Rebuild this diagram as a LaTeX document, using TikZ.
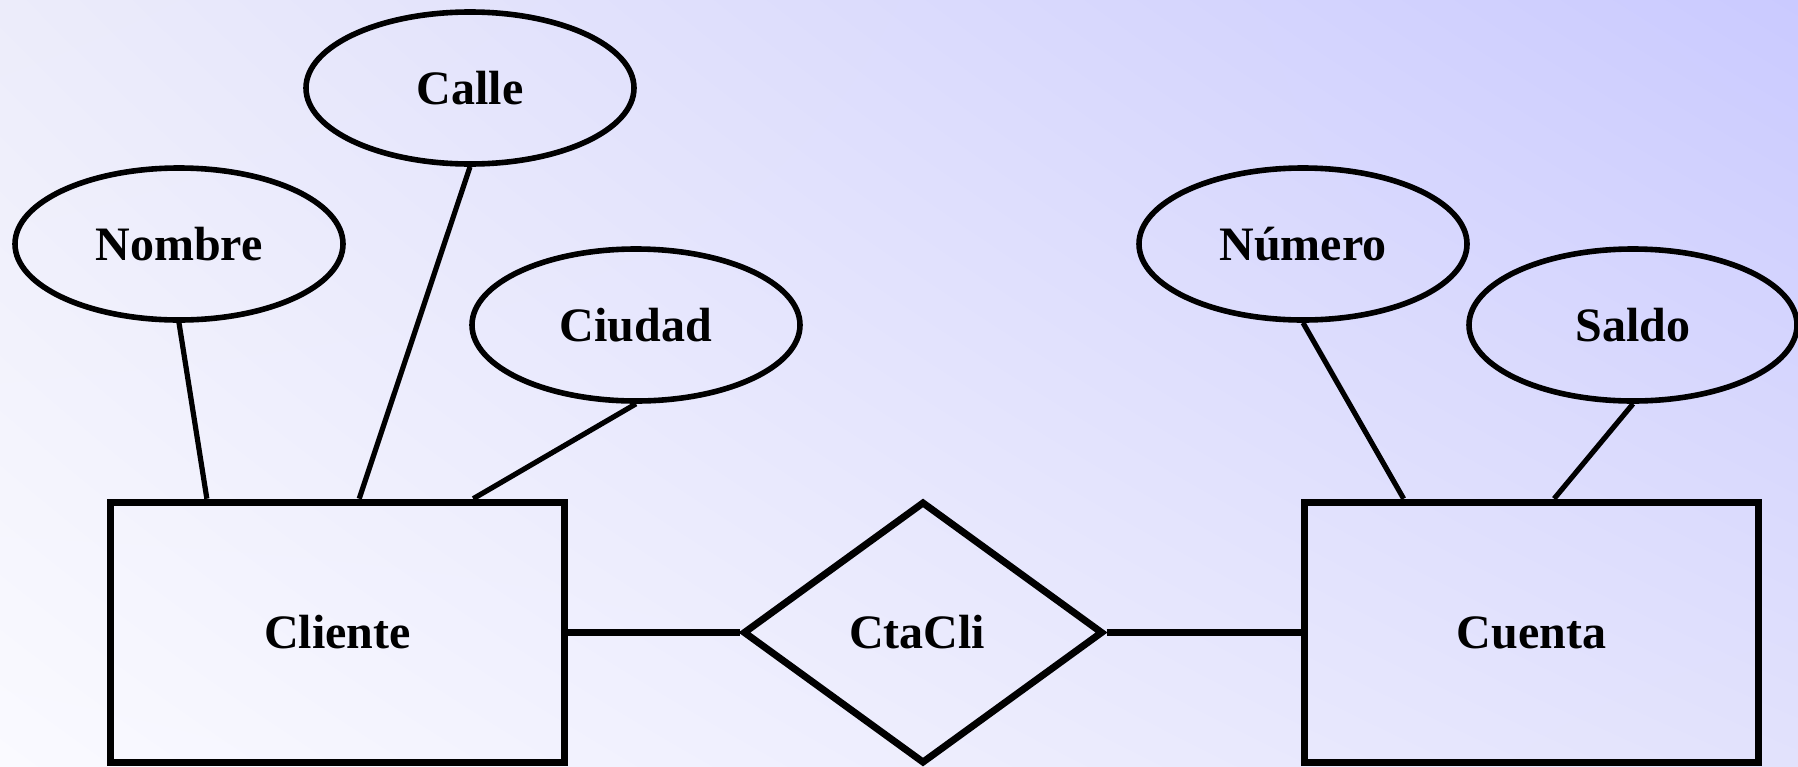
\documentclass[tikz,border=0pt]{standalone}
\usepackage{fontspec}
\newfontfamily\erfont{Liberation Serif}
\usetikzlibrary{shapes.geometric,calc,shadings}
\definecolor{bgTL}{RGB}{236,236,250}
\definecolor{bgTR}{RGB}{202,202,255}
\definecolor{bgBL}{RGB}{250,250,255}
\definecolor{bgBR}{RGB}{226,226,252}
\tikzset{
  lbl/.style={font=\erfont\bfseries\fontsize{24}{28}\selectfont, text=black, inner sep=0pt},
  attr/.style={lbl, ellipse, draw=black, line width=2.8pt, minimum width=164pt, minimum height=76pt},
  ent/.style={lbl, rectangle, draw=black, line width=3.8pt, minimum width=227pt, minimum height=130pt},
  rel/.style={lbl, diamond, draw=black, line width=3.5pt, minimum width=180pt, minimum height=131pt},
  attrlink/.style={draw=black, line width=2.6pt},
  rellink/.style={draw=black, line width=3.4pt}
}
\begin{document}
\begin{tikzpicture}[x=0.5pt,y=-0.5pt]
\shade[upper left=bgTL, upper right=bgTR, lower left=bgBL, lower right=bgBR] (0,0) rectangle (1798,766);
\useasboundingbox (0,0) rectangle (1798,766);

\node[attr] (nombre) at (179,244) {Nombre};
\node[attr] (calle) at (470,88) {Calle};
\node[attr] (ciudad) at (636,325) {Ciudad};
\node[attr] (numero) at (1303,244) {Número};
\node[attr] (saldo) at (1633,325) {Saldo};

\node[ent] (cliente) at (337.5,632.5) {Cliente};
\node[ent] (cuenta) at (1531.5,632.5) {Cuenta};
\node[rel] (ctacli) at (923,632.5) {\hspace*{-6pt}CtaCli};

\draw[attrlink] (nombre.south) -- ($(cliente.north west)!0.217!(cliente.north east)$);
\draw[attrlink] (calle.south) -- ($(cliente.north west)!0.547!(cliente.north east)$);
\draw[attrlink] (ciudad.south) -- ($(cliente.north west)!0.794!(cliente.north east)$);
\draw[attrlink] (numero.south) -- ($(cuenta.north west)!0.223!(cuenta.north east)$);
\draw[attrlink] (saldo.south) -- ($(cuenta.north west)!0.549!(cuenta.north east)$);

\draw[rellink] (cliente.east) -- (ctacli.west);
\draw[rellink] (ctacli.east) -- (cuenta.west);
\end{tikzpicture}
\end{document}
